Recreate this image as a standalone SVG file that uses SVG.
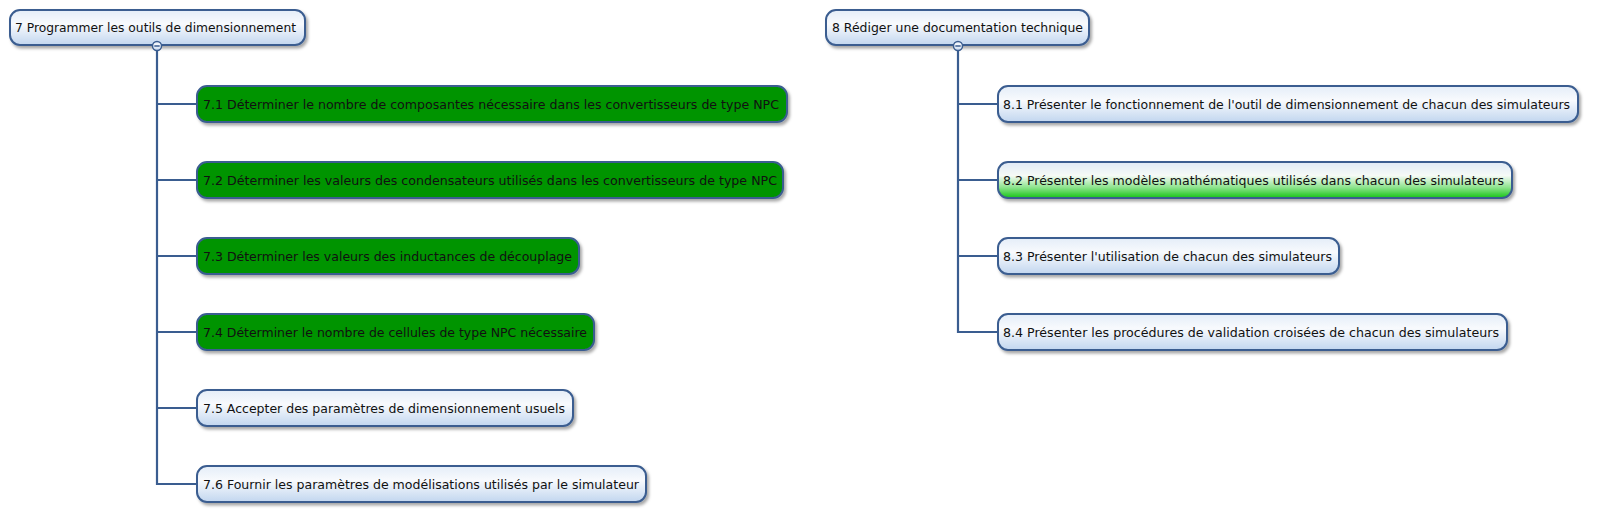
<svg xmlns="http://www.w3.org/2000/svg" width="1598" height="528" viewBox="0 0 1598 528">
<style>
.n{stroke:#3a5d90;stroke-width:2;filter:url(#sh)}
.b{fill:url(#gb)}
.g{fill:#009400}
.g2{fill:url(#gg)}
.t{font-family:"DejaVu Sans",Verdana,sans-serif;font-size:12px;fill:#111}
.c{fill:none;stroke:#3a5d90;stroke-width:2.2}
.k{fill:url(#gb);stroke:#3a5d90;stroke-width:1.5}
</style>
<defs>
<linearGradient id="gb" x1="0" y1="0" x2="0" y2="1">
<stop offset="0" stop-color="#e4edf8"/>
<stop offset="0.4" stop-color="#f8fafd"/>
<stop offset="1" stop-color="#c2d6ef"/>
</linearGradient>
<linearGradient id="gg" x1="0" y1="0" x2="0" y2="1">
<stop offset="0" stop-color="#dfe9f6"/>
<stop offset="0.38" stop-color="#f6faf6"/>
<stop offset="0.7" stop-color="#8fe48f"/>
<stop offset="1" stop-color="#14c414"/>
</linearGradient>
<filter id="sh" x="-5%" y="-20%" width="110%" height="150%">
<feDropShadow dx="2" dy="2.5" stdDeviation="1.5" flood-color="#000" flood-opacity="0.35"/>
</filter>
</defs>
<g id="connectors">
<path class="c" d="M157 50V484H197"/>
<path class="c" d="M157 104H197M157 180H197M157 256H197M157 332H197M157 408H197"/>
<path class="c" d="M958 50V332H998"/>
<path class="c" d="M958 104H998M958 180H998M958 256H998"/>
</g>
<g id="n7">
<rect class="n b" x="10" y="10" width="295" height="35" rx="10"/>
<text class="t" x="15" y="31.5" textLength="281" lengthAdjust="spacingAndGlyphs">7 Programmer les outils de dimensionnement</text>
<circle class="k" cx="157" cy="46" r="4.5"/>
<path d="M154.3 46H159.7" stroke="#3a5d90" stroke-width="1.5"/>
</g>
<g id="n7_1">
<rect class="n g" x="197" y="86" width="590" height="36" rx="10"/>
<text class="t" x="203" y="108.5" textLength="576" lengthAdjust="spacingAndGlyphs">7.1 Déterminer le nombre de composantes nécessaire dans les convertisseurs de type NPC</text>
</g>
<g id="n7_2">
<rect class="n g" x="197" y="162" width="586" height="36" rx="10"/>
<text class="t" x="203" y="184.5" textLength="574" lengthAdjust="spacingAndGlyphs">7.2 Déterminer les valeurs des condensateurs utilisés dans les convertisseurs de type NPC</text>
</g>
<g id="n7_3">
<rect class="n g" x="197" y="238" width="382" height="36" rx="10"/>
<text class="t" x="203" y="260.5" textLength="369" lengthAdjust="spacingAndGlyphs">7.3 Déterminer les valeurs des inductances de découplage</text>
</g>
<g id="n7_4">
<rect class="n g" x="197" y="314" width="397" height="36" rx="10"/>
<text class="t" x="203" y="336.5" textLength="384" lengthAdjust="spacingAndGlyphs">7.4 Déterminer le nombre de cellules de type NPC nécessaire</text>
</g>
<g id="n7_5">
<rect class="n b" x="197" y="390" width="376" height="36" rx="10"/>
<text class="t" x="203" y="412.5" textLength="362" lengthAdjust="spacingAndGlyphs">7.5 Accepter des paramètres de dimensionnement usuels</text>
</g>
<g id="n7_6">
<rect class="n b" x="197" y="466" width="449" height="36" rx="10"/>
<text class="t" x="203" y="488.5" textLength="436" lengthAdjust="spacingAndGlyphs">7.6 Fournir les paramètres de modélisations utilisés par le simulateur</text>
</g>
<g id="n8">
<rect class="n b" x="826" y="10" width="263" height="35" rx="10"/>
<text class="t" x="832" y="31.5" textLength="251" lengthAdjust="spacingAndGlyphs">8 Rédiger une documentation technique</text>
<circle class="k" cx="958" cy="46" r="4.5"/>
<path d="M955.3 46H960.7" stroke="#3a5d90" stroke-width="1.5"/>
</g>
<g id="n8_1">
<rect class="n b" x="998" y="86" width="580" height="36" rx="10"/>
<text class="t" x="1003" y="108.5" textLength="567" lengthAdjust="spacingAndGlyphs">8.1 Présenter le fonctionnement de l'outil de dimensionnement de chacun des simulateurs</text>
</g>
<g id="n8_2">
<rect class="n g2" x="998" y="162" width="514" height="36" rx="10"/>
<text class="t" x="1003" y="184.5" textLength="501" lengthAdjust="spacingAndGlyphs">8.2 Présenter les modèles mathématiques utilisés dans chacun des simulateurs</text>
</g>
<g id="n8_3">
<rect class="n b" x="998" y="238" width="341" height="36" rx="10"/>
<text class="t" x="1003" y="260.5" textLength="329" lengthAdjust="spacingAndGlyphs">8.3 Présenter l'utilisation de chacun des simulateurs</text>
</g>
<g id="n8_4">
<rect class="n b" x="998" y="314" width="509" height="36" rx="10"/>
<text class="t" x="1003" y="336.5" textLength="496" lengthAdjust="spacingAndGlyphs">8.4 Présenter les procédures de validation croisées de chacun des simulateurs</text>
</g>
</svg>
